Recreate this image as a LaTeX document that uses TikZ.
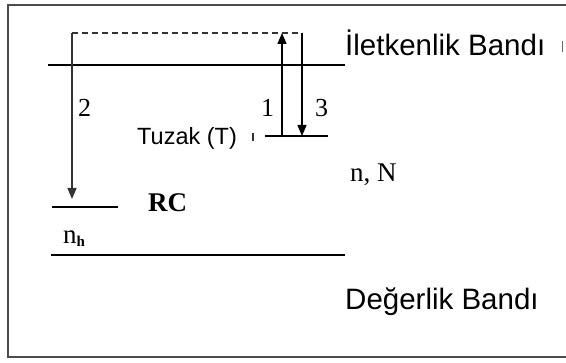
\documentclass[tikz,border=0pt]{standalone}
\usepackage{fontspec}
\setmainfont{Liberation Serif}
\newfontfamily\arialf{Liberation Sans}
\usetikzlibrary{arrows.meta}
\begin{document}
\begin{tikzpicture}[x=1pt,y=-1pt,
  frameline/.style={draw=black!70,line width=1.6pt},
  levelline/.style={draw=black,line width=1.4pt},
  dashline/.style={draw=black!80,line width=1.3pt,dash pattern=on 6pt off 4pt},
  transarrow/.style={draw=black,line width=1.4pt,-{Triangle[length=11pt,width=9pt]}},
  bandlbl/.style={font=\arialf\fontsize{29.5}{31}\selectfont,anchor=base west,inner sep=0pt},
  traplbl/.style={font=\arialf\fontsize{23.5}{25}\selectfont,anchor=base west,inner sep=0pt},
  numlbl/.style={font=\fontsize{26}{28}\selectfont,anchor=base west,inner sep=0pt},
  seriflbl/.style={font=\fontsize{27}{29}\selectfont,anchor=base west,inner sep=0pt},
  straymark/.style={draw=black!60,line width=1pt}]
\useasboundingbox (0,0) rectangle (566,363);
% frame (right edge outside the picture)
\draw[frameline] (580,5) -- (8,5) -- (8,357) -- (580,357);
% level coordinates
\coordinate (cbL) at (48,65);   \coordinate (cbR) at (345,65);
\coordinate (vbL) at (51,255);  \coordinate (vbR) at (345,255);
\coordinate (rcL) at (52,207);  \coordinate (rcR) at (118,207);
\coordinate (tL) at (265,136);  \coordinate (tR) at (328,136);
\coordinate (dashL) at (72,33); \coordinate (dashR) at (302,33);
\coordinate (rcTip) at (72,199);
\coordinate (up1) at (282,33);  \coordinate (from1) at (282,136);
\coordinate (to3) at (302,136);
% levels
\draw[levelline] (cbL) -- (cbR);
\draw[levelline] (vbL) -- (vbR);
\draw[levelline] (rcL) -- (rcR);
\draw[levelline] (tL) -- (tR);
\draw[dashline] (dashL) -- (dashR);
% transitions
\draw[transarrow,draw=black!80] (dashL) -- (rcTip);
\draw[transarrow] (from1) -- (up1);
\draw[transarrow] (dashR) -- (to3);
% labels
\node[bandlbl] (ib) at (345,56) {İletkenlik Bandı};
\node[bandlbl] (db) at (345,310) {Değerlik Bandı};
\node[traplbl] (tz) at (137,145) {Tuzak (T)};
\node[numlbl] (n1) at (261,117) {1};
\node[numlbl] (n2) at (78,117) {2};
\node[numlbl] (n3) at (315,117) {3};
\node[seriflbl] (rc) at (148,212) {\textbf{RC}};
\node[seriflbl] (nN) at (350,182) {n, N};
\node[seriflbl] (nh) at (63,244) {n\raisebox{-3pt}{\fontsize{15}{15}\selectfont\bfseries h}};
% stray marks of the original
\draw[straymark] (562,41) -- (562,52);
\draw[straymark,line width=1.3pt,draw=black!80] (253,133) -- (253,141);
\end{tikzpicture}
\end{document}
